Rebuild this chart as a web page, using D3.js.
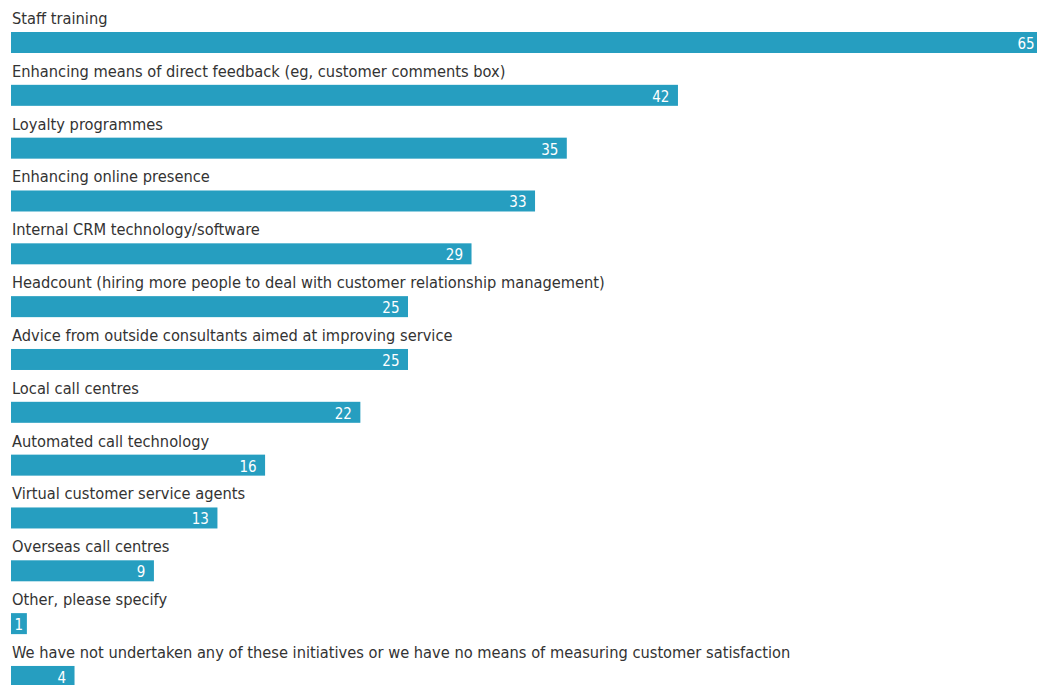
<!DOCTYPE html>
<html>
<head>
<meta charset="utf-8">
<script src="https://cdn.jsdelivr.net/npm/d3@7"></script>
<style>
  html, body { margin: 0; padding: 0; background: #fff; overflow: hidden; }
  svg { display: block; }
</style>
</head>
<body>
<svg id="chart" width="1037" height="685"></svg>
<script>
// Customer-service initiatives undertaken (% respondents)
const categories = [
  "Staff training",
  "Enhancing means of direct feedback (eg, customer comments box)",
  "Loyalty programmes",
  "Enhancing online presence",
  "Internal CRM technology/software",
  "Headcount (hiring more people to deal with customer relationship management)",
  "Advice from outside consultants aimed at improving service",
  "Local call centres",
  "Automated call technology",
  "Virtual customer service agents",
  "Overseas call centres",
  "Other, please specify",
  "We have not undertaken any of these initiatives or we have no means of measuring customer satisfaction"
];
const values = [65, 42, 35, 33, 29, 25, 25, 22, 16, 13, 9, 1, 4];
const subtitle = "(% respondents)";

const svg = d3.select("#chart");
const left = 11;

const x = d3.scaleLinear().domain([0, 65]).range([left, left + 65 * 15.88]);
const y = d3.scaleBand().domain(categories).range([22, 22 + 52.83 * categories.length]).paddingInner(0);

const font = "'DejaVu Sans Condensed', 'Liberation Sans Narrow', sans-serif";

// subtitle sits just above the visible area
svg.append("text")
  .attr("x", 12).attr("y", -3.5)
  .attr("font-family", font).attr("font-size", 16.3)
  .attr("fill", "#333")
  .text(subtitle);

const row = svg.selectAll("g.row").data(categories).join("g")
  .attr("class", "row")
  .attr("transform", d => `translate(0,${y(d)})`);

row.append("text")
  .attr("x", 12).attr("y", 2)
  .attr("font-family", font).attr("font-size", 16.3)
  .attr("fill", "#333")
  .text(d => d);

row.append("rect")
  .attr("x", x(0)).attr("y", 10)
  .attr("width", (d, i) => x(values[i]) - x(0))
  .attr("height", 21)
  .attr("fill", "#269ec0");

// value labels, right-aligned inside each bar
row.append("text")
  .attr("x", (d, i) => Math.max(x(values[i]) - 8.5, x(0) + 12))
  .attr("y", 27)
  .attr("text-anchor", "end")
  .attr("font-family", font).attr("font-size", 15)
  .attr("fill", "#fff")
  .text((d, i) => values[i]);
</script>
</body>
</html>
